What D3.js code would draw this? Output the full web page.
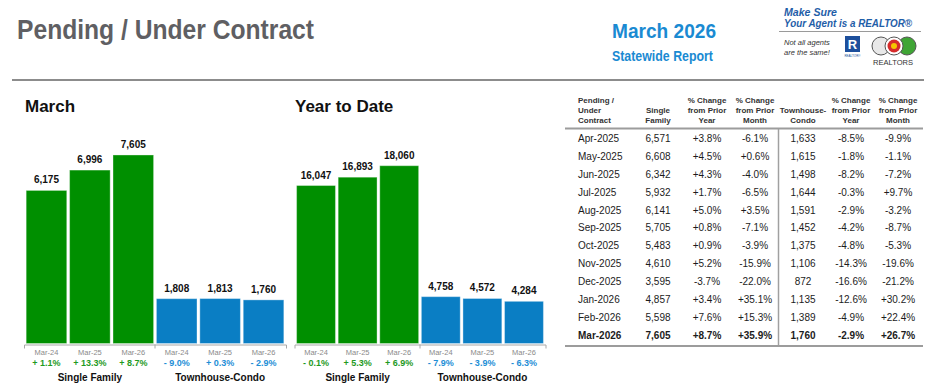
<!DOCTYPE html>
<html>
<head>
<meta charset="utf-8">
<script src="https://cdn.jsdelivr.net/npm/d3@7"></script>
<style>
  body { margin: 0; background: #fff; }
  text { font-family: "Liberation Sans", Arial, sans-serif; }
  .cond { font-family: "Liberation Sans Narrow", "Arial Narrow", "Liberation Sans", sans-serif; font-weight: bold; }
</style>
</head>
<body>
<div id="chart"></div>
<script>
// ---- bar chart data ----
var periods = ["Mar-24", "Mar-25", "Mar-26"];
var groupNames = ["Single Family", "Townhouse-Condo"];

var marchSingle = [6175, 6996, 7605];
var marchSingleChg = [1.1, 13.3, 8.7];
var marchTown = [1808, 1813, 1760];
var marchTownChg = [-9.0, 0.3, -2.9];

var ytdSingle = [16047, 16893, 18060];
var ytdSingleChg = [-0.1, 5.3, 6.9];
var ytdTown = [4758, 4572, 4284];
var ytdTownChg = [-7.9, -3.9, -6.3];

// ---- table data ----
var months = ["Apr-2025", "May-2025", "Jun-2025", "Jul-2025", "Aug-2025", "Sep-2025",
  "Oct-2025", "Nov-2025", "Dec-2025", "Jan-2026", "Feb-2026", "Mar-2026"];
var singleVals = [6571, 6608, 6342, 5932, 6141, 5705, 5483, 4610, 3595, 4857, 5598, 7605];
var singleYoY = [3.8, 4.5, 4.3, 1.7, 5.0, 0.8, 0.9, 5.2, -3.7, 3.4, 7.6, 8.7];
var singleMoM = [-6.1, 0.6, -4.0, -6.5, 3.5, -7.1, -3.9, -15.9, -22.0, 35.1, 15.3, 35.9];
var townVals = [1633, 1615, 1498, 1644, 1591, 1452, 1375, 1106, 872, 1135, 1389, 1760];
var townYoY = [-8.5, -1.8, -8.2, -0.3, -2.9, -4.2, -4.8, -14.3, -16.6, -12.6, -4.9, -2.9];
var townMoM = [-9.9, -1.1, -7.2, 9.7, -3.2, -8.7, -5.3, -19.6, -21.2, 30.2, 22.4, 26.7];

var svgWidth = 936;
var svgHeight = 390;

var green = "#008f00";
var blue = "#0a7ec4";

var svg = d3.select("#chart")
  .append("svg")
  .attr("width", svgWidth)
  .attr("height", svgHeight);

// ---- header ----
svg.append("text")
  .attr("class", "cond")
  .attr("x", 17)
  .attr("y", 39)
  .attr("textLength", 297)
  .attr("lengthAdjust", "spacingAndGlyphs")
  .style("font-size", "28px")
  .style("fill", "#5f5f63")
  .text("Pending / Under Contract");

svg.append("text")
  .attr("class", "cond")
  .attr("x", 612)
  .attr("y", 38)
  .attr("textLength", 104)
  .attr("lengthAdjust", "spacingAndGlyphs")
  .style("font-size", "21px")
  .style("fill", "#1a8ad2")
  .text("March 2026");

svg.append("text")
  .attr("class", "cond")
  .attr("x", 612)
  .attr("y", 61)
  .attr("textLength", 101)
  .attr("lengthAdjust", "spacingAndGlyphs")
  .style("font-size", "15px")
  .style("fill", "#1a8ad2")
  .text("Statewide Report");

// realtor badge (top right)
var badge = svg.append("g");
badge.append("text")
  .attr("x", 784).attr("y", 15.5)
  .attr("textLength", 53)
  .attr("lengthAdjust", "spacingAndGlyphs")
  .style("font-size", "10.5px").style("font-weight", "bold").style("font-style", "italic")
  .style("fill", "#1f5ea8")
  .text("Make Sure");
badge.append("text")
  .attr("x", 784).attr("y", 27)
  .attr("textLength", 128)
  .attr("lengthAdjust", "spacingAndGlyphs")
  .style("font-size", "10.5px").style("font-weight", "bold").style("font-style", "italic")
  .style("fill", "#1f5ea8")
  .text("Your Agent is a REALTOR®");
badge.append("line")
  .attr("x1", 779).attr("x2", 921).attr("y1", 31.5).attr("y2", 31.5)
  .style("stroke", "#9a9a9a").style("stroke-width", 1);
badge.append("text")
  .attr("x", 784).attr("y", 45)
  .style("font-size", "7.5px").style("font-style", "italic").style("fill", "#333")
  .text("Not all agents");
badge.append("text")
  .attr("x", 784).attr("y", 55)
  .style("font-size", "7.5px").style("font-style", "italic").style("fill", "#333")
  .text("are the same!");
badge.append("rect")
  .attr("x", 845).attr("y", 36).attr("width", 15).attr("height", 16)
  .style("fill", "#1d4f9c");
badge.append("text")
  .attr("x", 852.5).attr("y", 49)
  .attr("text-anchor", "middle")
  .style("font-size", "13px").style("font-weight", "bold").style("fill", "#fff")
  .text("R");
badge.append("text")
  .attr("x", 852.5).attr("y", 57)
  .attr("text-anchor", "middle")
  .style("font-size", "3px").style("fill", "#1d4f9c")
  .text("REALTOR®");
badge.append("circle").attr("cx", 881).attr("cy", 46).attr("r", 9)
  .style("fill", "#e8e8e8").style("stroke", "#555").style("stroke-width", 1);
badge.append("circle").attr("cx", 907).attr("cy", 46).attr("r", 9)
  .style("fill", "#3fa535").style("stroke", "#555").style("stroke-width", 1);
badge.append("circle").attr("cx", 894).attr("cy", 46).attr("r", 9)
  .style("fill", "#fff").style("stroke", "#555").style("stroke-width", 1);
badge.append("circle").attr("cx", 894).attr("cy", 46).attr("r", 6.5)
  .style("fill", "#d62b2b");
badge.append("circle").attr("cx", 894).attr("cy", 46).attr("r", 3)
  .style("fill", "#f5c400");
badge.append("text")
  .attr("x", 893).attr("y", 65)
  .attr("text-anchor", "middle")
  .attr("textLength", 40)
  .attr("lengthAdjust", "spacingAndGlyphs")
  .style("font-size", "6.5px").style("fill", "#333")
  .text("REALTORS");

// rule under header
svg.append("line")
  .attr("x1", 12).attr("x2", 924).attr("y1", 80).attr("y2", 80)
  .style("stroke", "#8c8c8c").style("stroke-width", 2);

// ---- bar charts ----
var axisY = 344.5;

function fmtChange(v) {
  return (v < 0 ? "- " : "+ ") + d3.format(".1f")(Math.abs(v)) + "%";
}

function drawBars(cfg) {
  var rows = [];
  periods.forEach(function(p, i) {
    rows.push({ key: "sf" + i, period: p, value: cfg.single[i], change: cfg.singleChg[i], group: 0 });
  });
  periods.forEach(function(p, i) {
    rows.push({ key: "tc" + i, period: p, value: cfg.town[i], change: cfg.townChg[i], group: 1 });
  });

  var x = d3.scaleBand()
    .domain(rows.map(d => d.key))
    .range(cfg.range)
    .paddingInner(0.065)
    .paddingOuter(0.05);

  var y = d3.scaleLinear()
    .domain([0, d3.max(rows, d => d.value) * cfg.headroom])
    .range([axisY - 1, 130]);

  var g = svg.append("g");

  // chart title
  g.append("text")
    .attr("class", "cond")
    .attr("x", cfg.titleX)
    .attr("y", 112)
    .style("font-size", "17px")
    .style("fill", "#111")
    .text(cfg.title);

  // bars
  g.selectAll("rect.bar")
    .data(rows)
    .enter()
    .append("rect")
    .attr("class", "bar")
    .attr("x", d => x(d.key))
    .attr("y", d => y(d.value))
    .attr("width", x.bandwidth())
    .attr("height", d => y(0) - y(d.value))
    .style("fill", d => d.group === 0 ? green : blue)
    .style("stroke", "#fff")
    .style("stroke-opacity", 0.35)
    .style("stroke-width", 1);

  // value labels
  g.selectAll("text.val")
    .data(rows)
    .enter()
    .append("text")
    .attr("class", "val")
    .attr("x", d => x(d.key) + x.bandwidth() / 2)
    .attr("y", d => y(d.value) - 7)
    .attr("text-anchor", "middle")
    .style("font-size", "10px")
    .style("font-weight", "bold")
    .style("fill", "#111")
    .text(d => d3.format(",")(d.value));

  // x axis with period labels
  var xAxis = g.append("g")
    .attr("transform", `translate(0, ${axisY})`)
    .call(d3.axisBottom(x)
      .tickSizeInner(0)
      .tickSizeOuter(4)
      .tickPadding(5)
      .tickFormat(k => rows.find(r => r.key === k).period));
  xAxis.select(".domain").style("stroke", "#a8a8a8");
  xAxis.selectAll("text")
    .style("font-size", "7.5px")
    .style("fill", "#8a8a8a")
    .style("font-family", "'Liberation Sans', Arial, sans-serif");

  // divider tick between the two groups
  var mid = (x("sf2") + x.bandwidth() + x("tc0")) / 2;
  g.append("line")
    .attr("x1", mid).attr("x2", mid)
    .attr("y1", axisY).attr("y2", axisY + 4)
    .style("stroke", "#a8a8a8");

  // percent change labels
  g.selectAll("text.chg")
    .data(rows)
    .enter()
    .append("text")
    .attr("class", "chg")
    .attr("x", d => x(d.key) + x.bandwidth() / 2)
    .attr("y", 366)
    .attr("text-anchor", "middle")
    .style("font-size", "9px")
    .style("font-weight", "bold")
    .style("fill", d => d.group === 0 ? "#1f9a1f" : "#1e8ed6")
    .text(d => fmtChange(d.change));

  // group labels
  g.selectAll("text.grp")
    .data(groupNames)
    .enter()
    .append("text")
    .attr("class", "grp")
    .attr("x", (d, i) => {
      var first = x(i === 0 ? "sf0" : "tc0");
      var last = x(i === 0 ? "sf2" : "tc2") + x.bandwidth();
      return (first + last) / 2;
    })
    .attr("y", 381)
    .attr("text-anchor", "middle")
    .style("font-size", "10px")
    .style("font-weight", "bold")
    .style("fill", "#111")
    .text(d => d);
}

drawBars({
  title: "March", titleX: 25,
  single: marchSingle, singleChg: marchSingleChg,
  town: marchTown, townChg: marchTownChg,
  range: [24, 286], headroom: 1.1325
});

drawBars({
  title: "Year to Date", titleX: 295,
  single: ytdSingle, singleChg: ytdSingleChg,
  town: ytdTown, townChg: ytdTownChg,
  range: [294.5, 545.5], headroom: 1.2008
});

// ---- monthly table ----
var table = svg.append("g");

var rowY = d3.scalePoint()
  .domain(months)
  .range([138.5, 335]);

var fmtNum = d3.format(",");
// plain hyphen for negatives, as in the report
var fmtPct = v => (v < 0 ? "-" : "+") + d3.format(".1f")(Math.abs(v)) + "%";

var columns = [
  { head: ["Pending /", "Under", "Contract"], x: 578, anchor: "start", vals: months, fmt: d => d },
  { head: ["Single", "Family"], x: 658, anchor: "middle", vals: singleVals, fmt: fmtNum },
  { head: ["% Change", "from Prior", "Year"], x: 707, anchor: "middle", vals: singleYoY, fmt: fmtPct },
  { head: ["% Change", "from Prior", "Month"], x: 755, anchor: "middle", vals: singleMoM, fmt: fmtPct },
  { head: ["Townhouse-", "Condo"], x: 803, anchor: "middle", vals: townVals, fmt: fmtNum },
  { head: ["% Change", "from Prior", "Year"], x: 851, anchor: "middle", vals: townYoY, fmt: fmtPct },
  { head: ["% Change", "from Prior", "Month"], x: 898, anchor: "middle", vals: townMoM, fmt: fmtPct }
];

var headBase = [102.7, 112.7, 122.7];

columns.forEach(function(col) {
  // header lines are bottom aligned
  var offset = 3 - col.head.length;
  col.head.forEach(function(line, i) {
    table.append("text")
      .attr("x", col.x)
      .attr("y", headBase[i + offset])
      .attr("text-anchor", col.anchor)
      .style("font-size", "8px")
      .style("font-weight", "bold")
      .style("fill", "#333")
      .text(line);
  });

  table.selectAll(null)
    .data(col.vals)
    .enter()
    .append("text")
    .attr("x", col.x)
    .attr("y", (d, i) => rowY(months[i]) + 3.6)
    .attr("text-anchor", col.anchor)
    .style("font-size", "10px")
    .style("font-weight", (d, i) => i === months.length - 1 ? "bold" : "normal")
    .style("fill", "#1c1c1c")
    .text(col.fmt);
});

// table rules
table.append("line")
  .attr("x1", 565).attr("x2", 923).attr("y1", 128.5).attr("y2", 128.5)
  .style("stroke", "#9c9c9c").style("stroke-width", 2);
table.append("line")
  .attr("x1", 565).attr("x2", 923).attr("y1", 346).attr("y2", 346)
  .style("stroke", "#9c9c9c").style("stroke-width", 2);
table.append("line")
  .attr("x1", 778.5).attr("x2", 778.5).attr("y1", 129).attr("y2", 345)
  .style("stroke", "#a0a0a0").style("stroke-width", 1.5);
</script>
</body>
</html>
